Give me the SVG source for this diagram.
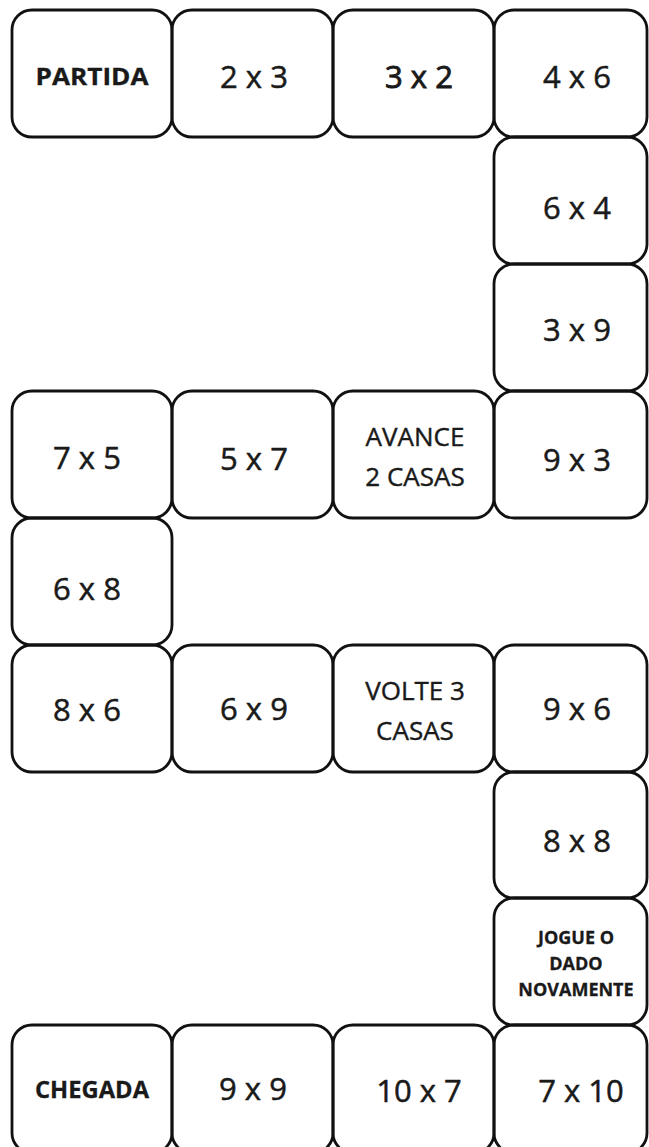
<svg xmlns="http://www.w3.org/2000/svg" width="649" height="1147" viewBox="0 0 649 1147">
  <style>
    .cell rect { fill: none; stroke: #111111; stroke-width: 2.8; }
    .t { font-family: "Open Sans", "Liberation Sans", sans-serif; font-size: 31px; fill: #1a1a1a; stroke: #1a1a1a; stroke-width: 0.5; text-anchor: middle; }
    .m { font-size: 26px; stroke-width: 0.4; }
    .b { font-weight: bold; font-size: 24px; stroke-width: 0.3; }
    .s { font-weight: bold; font-size: 18px; stroke-width: 0.3; }
  </style>
  <rect x="0" y="0" width="649" height="1147" fill="#ffffff"/>

  <!-- row 1 -->
  <g id="partida" class="cell">
    <rect x="12" y="10" width="160" height="127" rx="20"/>
    <text class="t b" x="92" y="85" textLength="113" lengthAdjust="spacingAndGlyphs">PARTIDA</text>
  </g>
  <g id="c2x3" class="cell">
    <rect x="172" y="10" width="161" height="127" rx="20"/>
    <text class="t" x="254" y="88">2 x 3</text>
  </g>
  <g id="c3x2" class="cell">
    <rect x="333" y="10" width="161" height="127" rx="20"/>
    <text class="t" x="419" y="88" style="stroke-width:0.9">3 x 2</text>
  </g>
  <g id="c4x6" class="cell">
    <rect x="494" y="10" width="153" height="127" rx="20"/>
    <text class="t" x="577" y="88">4 x 6</text>
  </g>

  <!-- right column down -->
  <g id="c6x4" class="cell">
    <rect x="494" y="137" width="153" height="127" rx="20"/>
    <text class="t" x="577" y="219">6 x 4</text>
  </g>
  <g id="c3x9" class="cell">
    <rect x="494" y="264" width="153" height="127" rx="20"/>
    <text class="t" x="577" y="341">3 x 9</text>
  </g>

  <!-- row 4 -->
  <g id="c7x5" class="cell">
    <rect x="12" y="391" width="160" height="127" rx="20"/>
    <text class="t" x="87" y="469">7 x 5</text>
  </g>
  <g id="c5x7" class="cell">
    <rect x="172" y="391" width="161" height="127" rx="20"/>
    <text class="t" x="254" y="470">5 x 7</text>
  </g>
  <g id="avance" class="cell">
    <rect x="333" y="391" width="161" height="127" rx="20"/>
    <text class="t m" x="415" y="446">AVANCE</text>
    <text class="t m" x="415" y="486">2 CASAS</text>
  </g>
  <g id="c9x3" class="cell">
    <rect x="494" y="391" width="153" height="127" rx="20"/>
    <text class="t" x="577" y="471">9 x 3</text>
  </g>

  <!-- left column -->
  <g id="c6x8" class="cell">
    <rect x="12" y="518" width="160" height="127" rx="20"/>
    <text class="t" x="87" y="600">6 x 8</text>
  </g>

  <!-- row 6 -->
  <g id="c8x6" class="cell">
    <rect x="12" y="645" width="160" height="127" rx="20"/>
    <text class="t" x="87" y="721">8 x 6</text>
  </g>
  <g id="c6x9" class="cell">
    <rect x="172" y="645" width="161" height="127" rx="20"/>
    <text class="t" x="254" y="720">6 x 9</text>
  </g>
  <g id="volte" class="cell">
    <rect x="333" y="645" width="161" height="127" rx="20"/>
    <text class="t m" x="415" y="700">VOLTE 3</text>
    <text class="t m" x="415" y="740">CASAS</text>
  </g>
  <g id="c9x6" class="cell">
    <rect x="494" y="645" width="153" height="127" rx="20"/>
    <text class="t" x="577" y="720">9 x 6</text>
  </g>

  <!-- right column down -->
  <g id="c8x8" class="cell">
    <rect x="494" y="772" width="153" height="126" rx="20"/>
    <text class="t" x="577" y="852">8 x 8</text>
  </g>
  <g id="jogue" class="cell">
    <rect x="494" y="898" width="153" height="127" rx="20"/>
    <text class="t s" x="576" y="944">JOGUE O</text>
    <text class="t s" x="576" y="970">DADO</text>
    <text class="t s" x="576" y="996">NOVAMENTE</text>
  </g>

  <!-- last row -->
  <g id="chegada" class="cell">
    <rect x="12" y="1025" width="160" height="128" rx="20"/>
    <text class="t b" x="92" y="1098" font-size="22" textLength="114" lengthAdjust="spacingAndGlyphs">CHEGADA</text>
  </g>
  <g id="c9x9" class="cell">
    <rect x="172" y="1025" width="161" height="128" rx="20"/>
    <text class="t" x="253" y="1100">9 x 9</text>
  </g>
  <g id="c10x7" class="cell">
    <rect x="333" y="1025" width="161" height="128" rx="20"/>
    <text class="t" x="419" y="1102">10 x 7</text>
  </g>
  <g id="c7x10" class="cell">
    <rect x="494" y="1025" width="153" height="128" rx="20"/>
    <text class="t" x="581" y="1102">7 x 10</text>
  </g>
</svg>
